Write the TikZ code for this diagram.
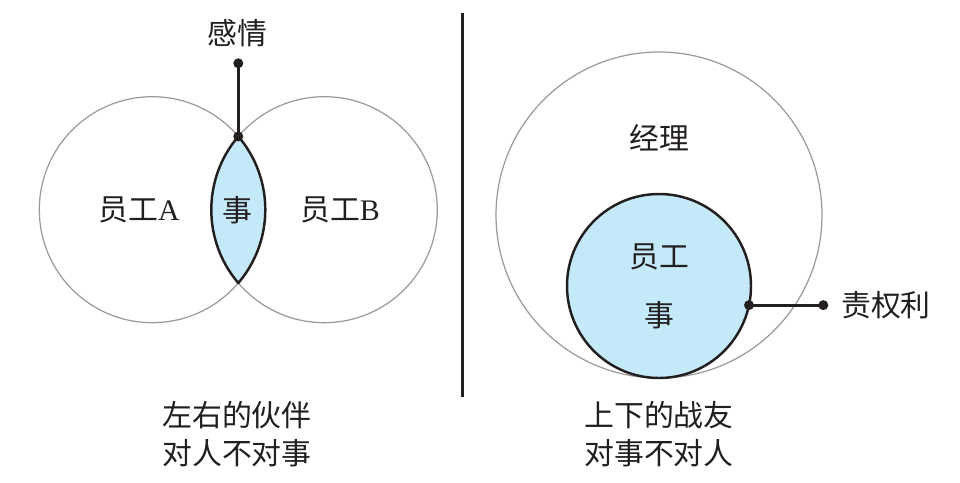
\documentclass[tikz,border=0pt]{standalone}
\usepackage{fontspec}
\setmainfont{Liberation Serif}
\newfontfamily\cjk{Noto Sans CJK SC}
\usepackage{tikz}
\usetikzlibrary{positioning}
\definecolor{ringGrey}{HTML}{9A9A9A}
\definecolor{inkDark}{HTML}{231F20}
\definecolor{taskBlue}{HTML}{C4E9F9}

\begin{document}
\begin{tikzpicture}[font=\fontsize{17}{21}\selectfont\cjk, text=inkDark]
  \useasboundingbox (0,0) rectangle (19.2,-9.64);
  % left: two colleagues side by side
  \node[draw=ringGrey, line width=0.7pt, circle, inner sep=0pt, outer sep=0pt, minimum size=4.52cm] (empA) at (3.046,-4.194) {};
  \node[draw=ringGrey, line width=0.7pt, circle, inner sep=0pt, outer sep=0pt, minimum size=4.52cm] (empB) at (6.486,-4.194) {};
  \coordinate (lensTop) at (4.766,-2.728);
  \coordinate (lensBot) at (4.766,-5.660);
  \fill[taskBlue] (lensTop) arc[start angle=139.55, end angle=220.45, radius=2.26cm] arc[start angle=-40.45, end angle=40.45, radius=2.26cm] -- cycle;
  \draw[inkDark, line width=1.4pt, line join=round] (lensTop) arc[start angle=139.55, end angle=220.45, radius=2.26cm] arc[start angle=-40.45, end angle=40.45, radius=2.26cm] -- cycle;
  \node (lblA) at (2.78,-4.2) {员工\rmfamily A};
  \node (lblB) at (6.80,-4.2) {员工\rmfamily B};
  \node (lensTask) at (4.74,-4.2) {事};
  \node[circle, fill=inkDark, inner sep=0pt, minimum size=0.2cm] (feelDot) at (4.766,-1.266) {};
  \node (feel) at (4.74,-0.66) {感情};
  \draw[inkDark, line width=1.6pt] (feelDot.center) -- (lensTop);
  \fill[inkDark] (lensTop) circle (0.1cm);
  \node (leftTitle) at (4.74,-8.30) {左右的伙伴};
  \node (leftNote) at (4.74,-9.06) {对人不对事};
  % divider
  \draw[inkDark, line width=1.4pt] (9.254,-0.26) -- (9.254,-7.94);
  % right: manager above employee
  \node[draw=ringGrey, line width=0.7pt, circle, inner sep=0pt, outer sep=0pt, minimum size=6.52cm] (mgr) at (13.18,-4.30) {};
  \node[draw=inkDark, fill=taskBlue, line width=1.4pt, circle, inner sep=0pt, outer sep=0pt, minimum size=3.68cm] (emp) at (13.18,-5.72) {};
  \node (mgrLbl) at (13.18,-2.76) {经理};
  \node (empLbl) at (13.18,-5.14) {员工};
  \node (empTask) at (13.18,-6.30) {事};
  \node[circle, fill=inkDark, inner sep=0pt, minimum size=0.2cm] (dutyDot) at (16.466,0 |- emp.-12.6) {};
  \node[anchor=west] (duty) at (16.70,0 |- emp.-12.6) {责权利};
  \draw[inkDark, line width=1.6pt] (emp.-12.6) -- (dutyDot.center);
  \fill[inkDark] (emp.-12.6) circle (0.1cm);
  \node (rightTitle) at (13.18,-8.30) {上下的战友};
  \node (rightNote) at (13.18,-9.06) {对事不对人};
\end{tikzpicture}
\end{document}
